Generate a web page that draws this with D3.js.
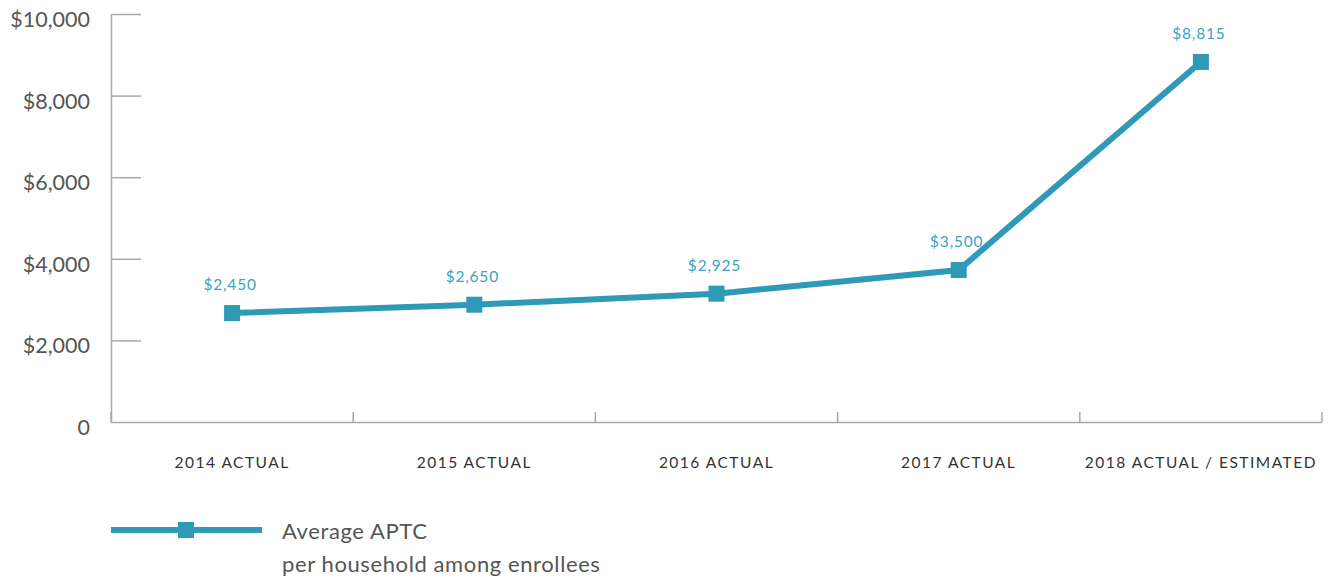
<!DOCTYPE html>
<html>
<head>
<meta charset="utf-8">
<script src="https://cdn.jsdelivr.net/npm/d3@7"></script>
<style>
  html, body { margin: 0; padding: 0; background: #fff; }
  svg { display: block; font-family: Lato, "Open Sans", sans-serif; }
</style>
</head>
<body>
<svg id="chart" width="1333" height="578"></svg>
<script>
const categories = ["2014 ACTUAL", "2015 ACTUAL", "2016 ACTUAL", "2017 ACTUAL", "2018 ACTUAL / ESTIMATED"];
const values = [2670, 2875, 3145, 3725, 8825];
const valueLabels = ["$2,450", "$2,650", "$2,925", "$3,500", "$8,815"];
const yTicks = [0, 2000, 4000, 6000, 8000, 10000];
const yTickLabels = ["0", "$2,000", "$4,000", "$6,000", "$8,000", "$10,000"];
const legendLines = ["Average APTC", "per household among enrollees"];

(function () {
const color = "#2e9ab8";
const labelColor = "#3aa2c2";
const axisColor = "#a8a8a8";

const svg = d3.select("#chart");
const mLeft = 111, mRight = 1322, mTop = 14, mBottom = 422;

const x = d3.scaleBand().domain(categories).range([mLeft, mRight]).padding(0);
const y = d3.scaleLinear().domain([0, 10000]).range([mBottom, mTop]);

// Y axis
const yAxis = svg.append("g").attr("transform", `translate(${mLeft},0)`)
  .call(d3.axisRight(y).tickValues(yTicks).tickSize(30).tickFormat(""));
yAxis.select(".domain").attr("stroke", axisColor).attr("stroke-width", 1.5).attr("d", `M0.5,${mTop}V${mBottom}`);
yAxis.selectAll(".tick line").attr("stroke", axisColor).attr("stroke-width", 1.5);
yAxis.selectAll(".tick").filter(d => d === 0).select("line").remove();

svg.append("g").selectAll("text").data(yTicks).join("text")
  .attr("x", 90).attr("y", d => y(d) + 13)
  .attr("text-anchor", "end")
  .attr("font-size", 21.5).attr("fill", "#555")
  .text((d, i) => yTickLabels[i]);

// X axis
const xAxis = svg.append("g").attr("transform", `translate(0,${mBottom})`)
  .call(d3.axisBottom(x).tickSize(0).tickFormat(""));
xAxis.select(".domain").attr("stroke", axisColor).attr("stroke-width", 1.5).attr("d", `M${mLeft},0.5H${mRight}`);
const boundaries = categories.map(c => x(c) + x.bandwidth()).concat([x(categories[0])]);
svg.append("g").selectAll("line").data(boundaries).join("line")
  .attr("x1", d => d).attr("x2", d => d)
  .attr("y1", mBottom - 10).attr("y2", mBottom)
  .attr("stroke", axisColor).attr("stroke-width", 1.5);

svg.append("g").selectAll("text").data(categories).join("text")
  .attr("x", d => x(d) + x.bandwidth() / 2)
  .attr("y", 468)
  .attr("text-anchor", "middle")
  .attr("font-size", 15.5).attr("letter-spacing", 1.5)
  .attr("fill", "#333")
  .text(d => d);

// Line
const cx = (d, i) => x(categories[i]) + x.bandwidth() / 2;
const line = d3.line().x(cx).y(d => y(d));
svg.append("path").datum(values)
  .attr("d", line)
  .attr("fill", "none").attr("stroke", color).attr("stroke-width", 6);

svg.append("g").selectAll("rect").data(values).join("rect")
  .attr("x", (d, i) => cx(d, i) - 8).attr("y", d => y(d) - 8)
  .attr("width", 16).attr("height", 16).attr("fill", color);

svg.append("g").selectAll("text").data(values).join("text")
  .attr("x", (d, i) => cx(d, i) - 2)
  .attr("y", d => y(d) - 23)
  .attr("text-anchor", "middle")
  .attr("font-size", 15.5).attr("letter-spacing", 0.8)
  .attr("fill", labelColor)
  .text((d, i) => valueLabels[i]);

// Legend
const lg = svg.append("g");
lg.append("line").attr("x1", 111).attr("x2", 262).attr("y1", 530).attr("y2", 530)
  .attr("stroke", color).attr("stroke-width", 6);
lg.append("rect").attr("x", 178).attr("y", 522).attr("width", 16).attr("height", 16).attr("fill", color);
lg.selectAll("text").data(legendLines).join("text")
  .attr("x", 282).attr("y", (d, i) => 539 + i * 33)
  .attr("font-size", 22).attr("letter-spacing", 0.6).attr("fill", "#555")
  .text(d => d);
})();
</script>
</body>
</html>
